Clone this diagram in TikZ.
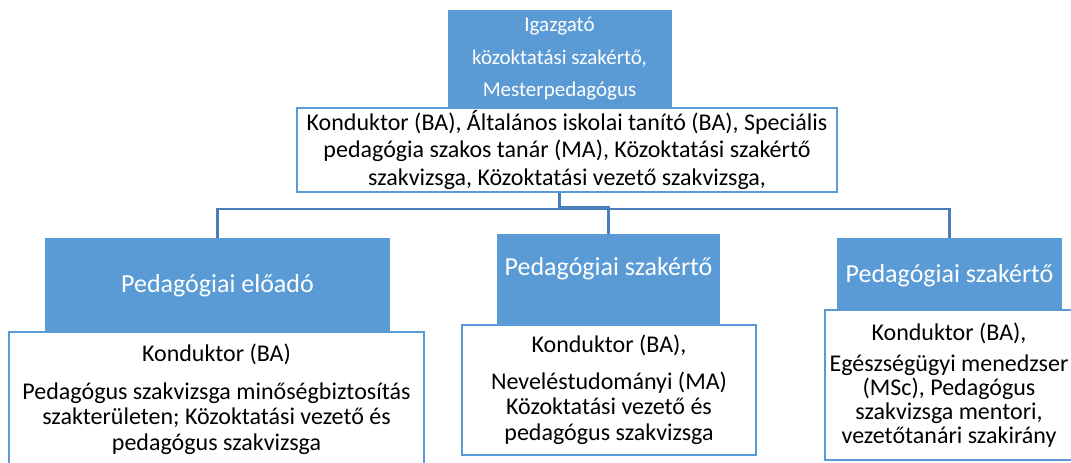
\documentclass[tikz,border=0pt]{standalone}
\usepackage{fontspec}
\setmainfont{Carlito}
\definecolor{boxblue}{HTML}{5B9BD5}
\definecolor{lineblue}{HTML}{4A7EBB}

\begin{document}
\begin{tikzpicture}
[x=1pt,y=-1pt,
 titlebox/.style={rectangle,fill=boxblue,text=white,inner sep=0pt,
   font=\fontsize{26}{30}\selectfont,text height=20pt,text depth=6pt},
 headbox/.style={rectangle,fill=boxblue,text=white,inner sep=0pt,align=center,
   font=\fontsize{21}{32.5}\selectfont},
 reqbox/.style={rectangle,draw=boxblue,line width=2pt,fill=white,inner sep=0pt,
   align=center,font=\fontsize{24}{25.5}\selectfont},
 conn/.style={draw=lineblue,line width=2.3pt}]

  \useasboundingbox (0,0) rectangle (1071,463);
  \clip (0,0) rectangle (1071,463);

  \node[headbox,minimum width=224,minimum height=98] (head) at (559.5,59)
    {Igazgató\\közoktatási szakértő,\\Mesterpedagógus};
  \node[reqbox,font=\fontsize{24}{27.5}\selectfont,minimum width=540,minimum height=84] (headreq) at (567,150)
    {Konduktor (BA), Általános iskolai tanító (BA), Speciális\\pedagógia szakos tanár (MA), Közoktatási szakértő\\szakvizsga, Közoktatási vezető szakvizsga,};

  \node[titlebox,minimum width=345,minimum height=94] (elo) at (217.5,285) {Pedagógiai előadó};
  \node[titlebox,text depth=29pt,minimum width=223,minimum height=91] (szak1) at (608.5,279.5) {Pedagógiai szakértő};
  \node[titlebox,minimum width=225,minimum height=74] (szak2) at (949.5,275) {Pedagógiai szakértő};

  \node[reqbox,minimum width=415,minimum height=134] (eloreq) at (216.5,399)
    {Konduktor (BA)\\[12.5pt]Pedagógus szakvizsga minőségbiztosítás\\szakterületen; Közoktatási vezető és\\pedagógus szakvizsga};
  \node[reqbox,minimum width=294,minimum height=130] (szak1req) at (609,390)
    {Konduktor (BA),\\[11pt]Neveléstudományi (MA)\\Közoktatási vezető és\\pedagógus szakvizsga};
  \node[reqbox,font=\fontsize{24}{24}\selectfont,minimum width=248,minimum height=150] (szak2req) at (949,385)
    {Konduktor (BA),\\[7pt]\makebox[230pt][c]{Egészségügyi menedzser}\\(MSc), Pedagógus\\szakvizsga mentori,\\vezetőtanári szakirány};

  % connectors
  \coordinate (bus) at (559.5,209);
  \draw[conn] (headreq.south -| head.south) -- (bus);
  \draw[conn] (elo.north) -- (elo.north |- bus) -- (szak2.north |- bus) -- (szak2.north);
  \draw[conn] (headreq.south -| head.south) ++(0,14) -| (szak1.north);
\end{tikzpicture}
\end{document}
